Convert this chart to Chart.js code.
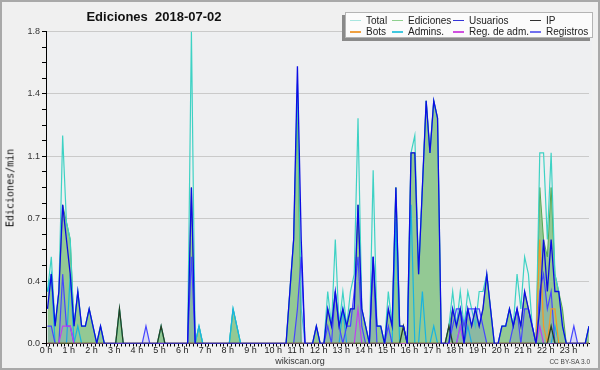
<!DOCTYPE html>
<html>
<head>
<meta charset="utf-8">
<script src="https://cdn.jsdelivr.net/npm/chart.js@4.4.0/dist/chart.umd.min.js"></script>
<style>
  html, body { margin: 0; padding: 0; background: #f0f0f0; }
  #wrap { position: relative; width: 600px; height: 370px; overflow: hidden; font-family: "Liberation Sans", Arial, sans-serif; }
  #chart { position: absolute; left: 0; top: 0; }
  #frame { position: absolute; left: 0; top: 0; width: 600px; height: 370px; box-sizing: border-box; border: 2px solid #a9a9a9; pointer-events: none; }
  #title { position: absolute; left: 0; top: 9px; width: 308px; text-align: center; font: bold 13px "Liberation Sans", Arial, sans-serif; color: #111; }
  #ytitle { position: absolute; left: 10px; top: 188px; transform: translate(-50%, -50%) rotate(-90deg); white-space: nowrap; font: 10px "DejaVu Sans Mono", monospace; color: #111; }
  #legend { position: absolute; left: 345px; top: 12px; width: 248px; height: 26px; box-sizing: border-box; background: #fbfbfb; border: 1px solid #b4b4b4; box-shadow: -3px 3px 0 #8a8a8a; }
  .item { position: absolute; font: 10px "Liberation Sans", Arial, sans-serif; color: #222; line-height: 11px; white-space: nowrap; }
  .item i { position: absolute; top: 5px; width: 11px; height: 1.5px; }
  #foot { position: absolute; left: 0; width: 600px; top: 356px; text-align: center; font: 9px "Liberation Sans", Arial, sans-serif; color: #333; }
  #cc { position: absolute; right: 10px; top: 358px; font: 6.5px "Liberation Sans", Arial, sans-serif; color: #444; }
</style>
</head>
<body>
<div id="wrap">
  <canvas id="chart" width="600" height="370"></canvas>
  <div id="title">Ediciones&nbsp;&nbsp;2018-07-02</div>
  <div id="ytitle">Ediciones/min</div>
  <div id="legend"></div>
  <div id="foot">wikiscan.org</div>
  <div id="cc">CC BY-SA 3.0</div>
  <div id="frame"></div>
</div>
<script>
// ===================================
// DATA (edits per minute, 10-minute bins, 0:00 .. 23:50)
// ===================================

const hourLabels = ['0 h','1 h','2 h','3 h','4 h','5 h','6 h','7 h','8 h','9 h','10 h','11 h',
    '12 h','13 h','14 h','15 h','16 h','17 h','18 h','19 h','20 h','21 h','22 h','23 h'];

const yTicks = [0, 0.36, 0.72, 1.08, 1.44, 1.8];

const total = [
    0.3,0.5,0.1,0.3,1.2,0.7,  0.6,0.1,0.3,0.1,0.1,0.2,  0.1,0,0.1,0,0,0,  0,0.2,0,0,0,0,
    0,0,0,0,0,0,  0.1,0,0,0,0,0,  0,0,1.8,0,0.1,0,  0,0,0,0,0,0,
    0,0.2,0.1,0,0,0,  0,0,0,0,0,0,  0,0,0,0,0.3,0.6,  1.5,0.2,0,0,0,0.1,
    0,0,0.3,0.1,0.6,0.1,  0.3,0.1,0.3,0.4,1.3,0.2,  0.1,0,1.0,0.1,0.1,0,  0.3,0.1,0.9,0.1,0.1,0,
    1.1,1.2,0.4,0.9,1.4,1.1,  1.4,1.3,0,0,0.1,0.3,  0.1,0.3,0.1,0.3,0.2,0.1,  0.3,0.3,0.4,0.2,0,0,
    0.1,0.1,0.2,0.1,0.4,0.2,  0.5,0.4,0.1,0,1.1,1.1,  0.6,1.1,0.4,0.3,0.1,0,  0,0,0,0,0,0.1
];

const ediciones = [
    0.3,0.4,0.1,0.3,0.8,0.7,  0.6,0.1,0.3,0.1,0.1,0.2,  0.1,0,0.1,0,0,0,  0,0.2,0,0,0,0,
    0,0,0,0,0,0,  0.1,0,0,0,0,0,  0,0,0.9,0,0.1,0,  0,0,0,0,0,0,
    0,0.2,0.1,0,0,0,  0,0,0,0,0,0,  0,0,0,0,0.3,0.6,  1.4,0,0,0,0,0.1,
    0,0,0.2,0.1,0.3,0.1,  0.2,0.1,0.2,0.2,0.8,0.2,  0.1,0,0.5,0.1,0.1,0,  0.2,0.1,0.9,0.1,0.1,0,
    1.1,1.1,0.4,0.9,1.4,1.1,  1.4,1.3,0,0,0.1,0.2,  0.1,0.2,0.1,0.2,0.1,0.2,  0.1,0.2,0.4,0.2,0,0,
    0.1,0.1,0.2,0.1,0.2,0.1,  0.3,0.2,0.1,0,0.9,0.6,  0.5,0.9,0.4,0.3,0.2,0,  0,0,0,0,0,0.1
];

const usuarios = [
    0.2,0.4,0.1,0.3,0.8,0.6,  0.4,0.1,0.3,0.1,0.1,0.2,  0.1,0,0.1,0,0,0,  0,0,0,0,0,0,
    0,0,0,0,0,0,  0,0,0,0,0,0,  0,0,0.9,0,0,0,  0,0,0,0,0,0,
    0,0,0,0,0,0,  0,0,0,0,0,0,  0,0,0,0,0.3,0.6,  1.6,0.6,0,0,0,0.1,
    0,0,0.2,0.1,0.3,0.1,  0.2,0.1,0.2,0.2,0.8,0.2,  0.1,0,0.5,0.1,0.1,0,  0.2,0.1,0.9,0.1,0.1,0,
    1.1,1.1,0.4,0.9,1.4,1.1,  1.4,1.3,0,0,0,0.2,  0.1,0.2,0,0.2,0.1,0.2,  0.1,0.2,0.4,0.2,0,0,
    0.1,0.1,0.2,0.1,0.2,0.1,  0.3,0.2,0.1,0,0.2,0.6,  0.3,0.6,0.3,0.3,0.1,0,  0,0,0,0,0,0.1
];

const ip = [
    0,0,0,0,0,0,  0,0,0,0,0,0,  0,0,0,0,0,0,  0,0.2,0,0,0,0,
    0,0,0,0,0,0,  0.1,0,0,0,0,0,  0,0,0,0,0,0,  0,0,0,0,0,0,
    0,0,0,0,0,0,  0,0,0,0,0,0,  0,0,0,0,0,0,  0,0,0,0,0,0,
    0,0,0,0,0,0,  0,0,0,0,0,0,  0,0,0,0,0,0,  0,0,0,0,0.1,0,
    0,0,0,0,0,0,  0,0,0,0,0.1,0,  0,0,0,0,0,0,  0,0,0,0,0,0,
    0,0,0,0,0,0,  0,0,0,0,0,0,  0,0.1,0,0,0,0,  0,0,0,0,0,0
];

const bots = [
    0,0,0,0,0,0,  0,0,0,0,0,0,  0,0,0,0,0,0,  0,0,0,0,0,0,
    0,0,0,0,0,0,  0,0,0,0,0,0,  0,0,0,0,0,0,  0,0,0,0,0,0,
    0,0,0,0,0,0,  0,0,0,0,0,0,  0,0,0,0,0,0,  0,0,0,0,0,0,
    0,0,0,0,0,0,  0,0,0,0,0,0,  0,0,0,0,0,0,  0,0,0,0,0,0,
    0,0,0,0,0,0,  0,0,0,0,0,0,  0,0,0,0,0,0,  0,0,0,0,0,0,
    0,0,0,0,0,0,  0,0,0,0,0.6,0.1,  0,0.2,0.2,0,0,0,  0,0,0,0,0,0
];

const admins = [
    0.3,0.4,0,0,0,0,  0.4,0,0.1,0,0,0,  0,0,0,0,0,0,  0,0,0,0,0,0,
    0,0,0,0,0,0,  0,0,0,0,0,0,  0,0,0,0,0.1,0,  0,0,0,0,0,0,
    0,0.2,0.1,0,0,0,  0,0,0,0,0,0,  0,0,0,0,0,0,  0,0,0,0,0,0,
    0,0,0,0,0,0,  0.2,0,0,0,0,0,  0,0,0,0,0,0,  0,0,0.7,0,0,0,
    0.8,0,0,0.3,0,0,  0.1,0,0,0,0,0,  0,0.1,0,0.1,0,0,  0,0,0,0,0,0,
    0,0,0,0,0,0,  0,0,0,0,0,0,  0,0,0.1,0,0,0,  0,0,0,0,0,0
];

const regAdm = [
    0,0,0,0,0.1,0.1,  0.1,0,0,0,0,0,  0,0,0,0,0,0,  0,0,0,0,0,0,
    0,0,0,0,0,0,  0,0,0,0,0,0,  0,0,0,0,0,0,  0,0,0,0,0,0,
    0,0,0,0,0,0,  0,0,0,0,0,0,  0,0,0,0,0,0,  0,0,0,0,0,0,
    0,0,0,0,0,0,  0,0,0,0,0.2,0,  0,0,0,0,0,0,  0,0,0,0,0,0,
    0,0,0,0,0,0,  0,0,0,0,0,0,  0,0.1,0,0,0,0,  0,0,0,0,0,0,
    0,0,0,0,0,0,  0,0,0,0,0.1,0,  0,0,0,0,0,0,  0,0,0,0,0,0
];

const registros = [
    0.1,0.1,0,0,0.4,0.1,  0.1,0,0,0,0,0,  0,0,0,0,0,0,  0,0,0,0,0,0,
    0,0,0.1,0,0,0,  0,0,0,0,0,0,  0,0,0.5,0,0,0,  0,0,0,0,0,0,
    0,0,0,0,0,0,  0,0,0,0,0,0,  0,0,0,0,0,0,  0.2,0.5,0,0,0,0,
    0,0,0.1,0,0.3,0.1,  0,0.1,0.1,0.3,0.5,0.1,  0,0,0.5,0,0,0,  0.1,0,0,0,0,0,
    0,0,0,0,0,0,  0,0,0,0,0,0.1,  0.2,0.2,0.1,0.2,0.2,0.2,  0.2,0.1,0,0,0,0,
    0,0,0,0.1,0.2,0,  0.2,0.2,0.1,0,0.3,0.4,  0.2,0.3,0,0,0,0,  0,0.1,0,0,0,0
];

// ===================================
// SERIES STYLE
// ===================================

const series = [
    { label: 'Usuarios',     data: usuarios,  color: '#0c0ce4', width: 1.3, order: 0, legend: '#3434d8' },
    { label: 'IP',           data: ip,        color: '#253f25', width: 1.3, order: 1, legend: '#303030' },
    { label: 'Reg. de adm.', data: regAdm,    color: '#c040f0', width: 1.2, order: 2, legend: '#d050e0' },
    { label: 'Bots',         data: bots,      color: '#f09a28', width: 1.3, order: 3, legend: '#f0a040' },
    { label: 'Registros',    data: registros, color: '#4646ff', width: 1.2, order: 4, legend: '#7070f0',
      fill: 'rgba(90,90,255,0.14)' },
    { label: 'Admins.',      data: admins,    color: '#18b4e0', width: 1.2, order: 5, legend: '#40c8e0' },
    { label: 'Total',        data: total,     color: '#3ed2c4', width: 1.2, order: 6, legend: '#a8e6e0' },
    { label: 'Ediciones',    data: ediciones, color: '#52a852', width: 1,   order: 7, legend: '#8fd08f',
      fill: '#93c994' }
];

const legendLayout = [
    ['Total', 0, 0], ['Ediciones', 1, 0], ['Usuarios', 2, 0], ['IP', 3, 0],
    ['Bots', 0, 1], ['Admins.', 1, 1], ['Reg. de adm.', 2, 1], ['Registros', 3, 1]
];
const legendColX = [4, 46, 107, 184];

// legend
const legendBox = document.getElementById('legend');
legendLayout.forEach(([name, col, row]) => {
    const s = series.find(d => d.label === name);
    const el = document.createElement('div');
    el.className = 'item';
    el.style.left = legendColX[col] + 'px';
    el.style.top = (row ? 13 : 1.5) + 'px';
    el.innerHTML = `<i style="left:0;background:${s.legend}"></i><span style="margin-left:16px">${name}</span>`;
    legendBox.appendChild(el);
});

// ===================================
// CHART
// ===================================

const areaBg = {
    id: 'areaBg',
    beforeDraw(chart) {
        const { ctx, chartArea: a } = chart;
        ctx.save();
        ctx.fillStyle = '#eeeff1';
        ctx.fillRect(a.left, a.top, a.right - a.left + 3, a.bottom - a.top);
        ctx.restore();
    }
};

new Chart(document.getElementById('chart'), {
    type: 'line',
    data: {
        datasets: series.map(s => ({
            label: s.label,
            data: s.data.map((v, i) => ({ x: i, y: v })),
            borderColor: s.color,
            borderWidth: s.width,
            backgroundColor: s.fill || 'transparent',
            fill: s.fill ? 'origin' : false,
            order: s.order,
            pointRadius: 0,
            tension: 0
        }))
    },
    options: {
        responsive: false,
        animation: false,
        devicePixelRatio: 1,
        layout: { padding: { left: 0, right: 11, top: 31.5, bottom: 0 } },
        plugins: {
            legend: { display: false },
            tooltip: { enabled: false }
        },
        scales: {
            x: {
                type: 'linear',
                min: -0.4,
                max: 143,
                afterBuildTicks(scale) {
                    scale.ticks = Array.from({ length: 144 }, (_, k) => ({ value: k - 0.4 }));
                },
                afterFit(scale) { scale.height = 26.5; },
                ticks: {
                    autoSkip: false,
                    maxRotation: 0,
                    padding: -1,
                    color: '#222',
                    font: { family: 'Liberation Sans', size: 9 },
                    callback: (value, index) => index % 6 === 0 ? hourLabels[index / 6] : ''
                },
                grid: { drawOnChartArea: false, color: '#000', tickLength: 3 },
                border: { color: '#000', width: 1 }
            },
            y: {
                min: 0,
                max: 1.8,
                afterBuildTicks(scale) {
                    const t = [];
                    for (let k = 0; k <= 20; k++) t.push({ value: k * 9 / 100 });
                    scale.ticks = t;
                },
                afterFit(scale) { scale.width = 46; },
                ticks: {
                    autoSkip: false,
                    padding: 2,
                    color: '#333',
                    font: { family: 'Liberation Sans', size: 9 },
                    callback: (value, index) => index % 4 === 0 ? yTicks[index / 4].toFixed(1) : ''
                },
                grid: {
                    color: ctx => (ctx.index % 4 === 0 && ctx.index > 0) ? '#cacaca' : 'rgba(0,0,0,0)',
                    tickColor: '#000',
                    tickLength: 4
                },
                border: { color: '#000', width: 1 }
            }
        }
    },
    plugins: [areaBg]
});
</script>
</body>
</html>
